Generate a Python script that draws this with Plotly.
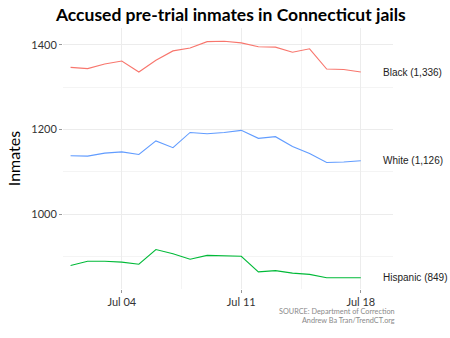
import plotly.graph_objects as go

# Annual July counts of accused pre-trial inmates by race
years = list(range(2001, 2019))
dates = [f"{y}-07-01" for y in years]

black = [1347, 1344, 1355, 1362, 1336, 1364, 1386, 1393, 1408, 1409,
         1405, 1396, 1395, 1383, 1391, 1343, 1342, 1336]
white = [1138, 1137, 1144, 1147, 1141, 1173, 1157, 1193, 1190, 1193,
         1198, 1179, 1183, 1160, 1143, 1122, 1123, 1126]
hispanic = [878, 888, 888, 886, 881, 916, 906, 893, 902, 901,
            900, 863, 866, 860, 857, 849, 849, 849]

series = [
    ("Black", black, "#F8766D"),
    ("White", white, "#619CFF"),
    ("Hispanic", hispanic, "#00BA38"),
]

tick_dates = ["2004-07-01", "2011-07-01", "2018-07-01"]
tick_text = ["Jul 04", "Jul 11", "Jul 18"]
minor_dates = ["2001-01-01", "2008-01-01", "2015-01-01"]

fig = go.Figure()
annotations = []
for name, vals, color in series:
    fig.add_trace(go.Scatter(
        x=dates, y=vals, mode="lines", name=name,
        line=dict(color=color, width=1.1), showlegend=False,
    ))
    last = vals[-1]
    annotations.append(dict(
        x="2019-09-01", y=last, xref="x", yref="y",
        text=f"{name} ({last:,})", showarrow=False,
        xanchor="left", yanchor="middle",
        font=dict(family="Liberation Sans, Arial", size=10, color="#222222"),
    ))

annotations.append(dict(
    x=1.012, y=-0.06, xref="paper", yref="paper",
    text="SOURCE: Department of Correction<br>Andrew Ba Tran/TrendCT.org",
    showarrow=False, xanchor="right", yanchor="top", align="right",
    font=dict(family="Lato", size=7.3, color="#8a8a8a"),
))

fig.update_layout(
    width=450, height=338,
    margin=dict(l=63, r=57, t=28, b=49),
    paper_bgcolor="white", plot_bgcolor="white",
    title=dict(
        text="<b>Accused pre-trial inmates in Connecticut jails</b>",
        x=0.513, xanchor="center", y=0.955, yanchor="middle",
        font=dict(family="Lato", size=17.5, color="#000000"),
    ),
    annotations=annotations,
    xaxis=dict(
        type="date",
        range=["2001-01-20", "2020-05-20"],
        tickmode="array", tickvals=tick_dates, ticktext=tick_text,
        showgrid=True, gridcolor="#ececec", gridwidth=1,
        ticks="outside", ticklen=3, tickcolor="#999999",
        tickfont=dict(family="Lato", size=11, color="#333333"),
        minor=dict(tickmode="array", tickvals=minor_dates,
                   showgrid=True, gridcolor="#f4f4f4", gridwidth=1),
        zeroline=False, showline=False,
    ),
    yaxis=dict(
        range=[822.5, 1440.2],
        tickmode="array", tickvals=[1000, 1200, 1400],
        showgrid=True, gridcolor="#ececec", gridwidth=1,
        ticks="outside", ticklen=3, tickcolor="#999999",
        tickfont=dict(family="Lato", size=11, color="#333333"),
        minor=dict(tickmode="array", tickvals=[900, 1100, 1300],
                   showgrid=True, gridcolor="#f4f4f4", gridwidth=1),
        title=dict(text="Inmates", font=dict(family="Lato", size=16, color="#000000"),
                   standoff=6),
        zeroline=False, showline=False,
    ),
)

fig.write_html("out.html")
